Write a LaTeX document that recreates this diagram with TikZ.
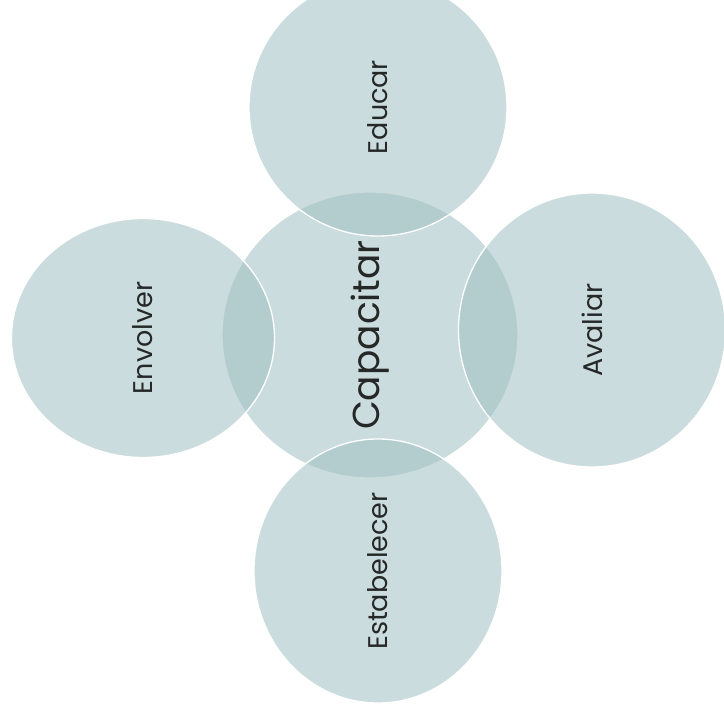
\documentclass[tikz,border=0pt]{standalone}
\usepackage{fontspec}
\setmainfont{Poppins}
\usepackage{xcolor}
\usepackage{tikz}
\usetikzlibrary{shapes.geometric}

\definecolor{bolhacor}{RGB}{160,192,194}
\definecolor{textocor}{RGB}{38,40,40}

\tikzset{
    bolha/.style = {ellipse, draw = white, line width = 1.3pt, fill = bolhacor,
        fill opacity = 0.55, draw opacity = 1, text opacity = 1,
        text = textocor, inner sep = 0pt},
    rotulo/.style = {font = \fontsize{27}{27}\selectfont},
    rotulogrande/.style = {font = \fontsize{37.5}{37.5}\selectfont}
}

\begin{document}
\begin{tikzpicture}[x = 1pt, y = -1pt]
        \useasboundingbox (0, 0) rectangle (724, 717);

        \node[bolha, rotulogrande, minimum width = 296pt, minimum height = 286pt]
            (capacitar) at (370, 335) {\rotatebox{90}{Capacitar}};

        \node[bolha, rotulo, minimum width = 258pt, minimum height = 258pt]
            (educar) at (378, 107) {\rotatebox{90}{Educar}};
        \node[bolha, rotulo, minimum width = 263pt, minimum height = 239pt]
            (envolver) at (143, 338) {\rotatebox{90}{Envolver}};
        \node[bolha, rotulo, minimum width = 267pt, minimum height = 274pt]
            (avaliar) at (592, 330) {\rotatebox{90}{Avaliar}};
        \node[bolha, rotulo, minimum width = 248pt, minimum height = 264pt]
            (estabelecer) at (378, 571) {\rotatebox{90}{Estabelecer}};
\end{tikzpicture}
\end{document}
